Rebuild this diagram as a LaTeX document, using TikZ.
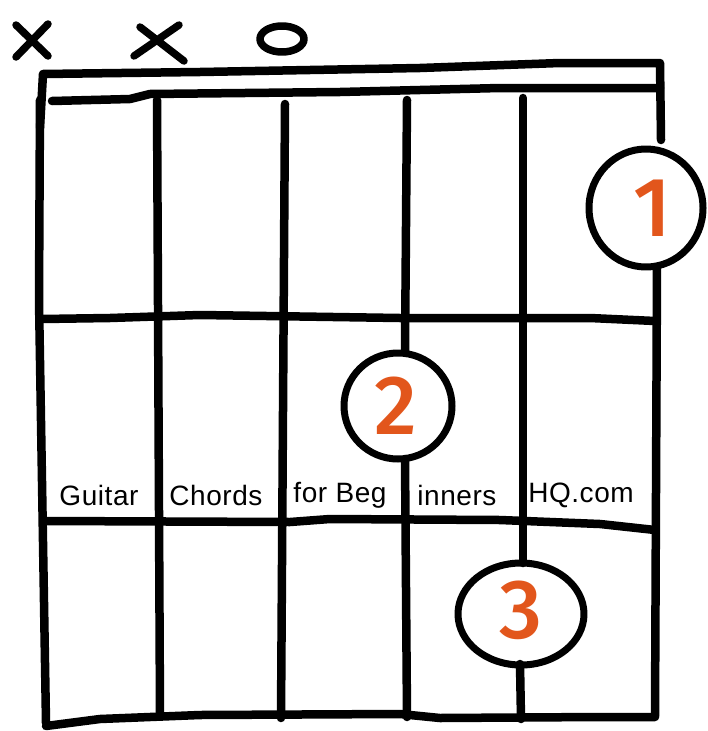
\documentclass[tikz,border=0pt]{standalone}
\usepackage{fontspec}
\setmainfont{Liberation Sans}
\newfontfamily\numfont{Fira Sans Medium}
\definecolor{fingerorange}{HTML}{E2561C}
\begin{document}
\begin{tikzpicture}[x=1pt,y=-1pt,
  ink/.style={line width=8.5pt,line cap=round,line join=round,black},
  fingerring/.style={ink,line width=7pt},
  fingernum/.style={text=fingerorange,font=\numfont\fontsize{84}{84}\selectfont},
  brand/.style={font=\fontsize{28}{28}\selectfont\addfontfeature{LetterSpace=2},inner sep=0pt}]
\useasboundingbox (0,0) rectangle (707,731);
% muted / open marks
\draw[ink,line width=7.5pt] (16,25) -- (48,56) (48,24) -- (16,57);
\draw[ink,line width=7.5pt] (140,27) -- (184,61) (179,25) -- (134,56);
\draw[ink,line width=7.5pt] (282,39) ellipse (22 and 13);
% nut
\draw[ink] (40,128) -- (43,74) -- (200,72) -- (420,68) -- (560,63) -- (660,63) -- (661,140);
\draw[ink] (52,101) -- (130,99) -- (150,94) -- (340,92) -- (500,88) -- (660,88);
% strings
\draw[ink] (40,100) -- (39,300) -- (46,723);
\draw[ink] (157,100) -- (160,716);
\draw[ink] (285,104) -- (281,718);
% finger circles
\coordinate (c1) at (646,208);
\coordinate (c2) at (398,406);
\coordinate (c3) at (521,614);
\draw[fingerring] (c1) ellipse (57 and 59);
\draw[fingerring] (c2) ellipse (54 and 53);
\draw[fingerring] (c3) ellipse (63 and 51);
\node[fingernum] (n1) at (652,208) {1};
\node[fingernum] (n2) at (396,406) {2};
\node[fingernum] (n3) at (521,610) {3};
% string 4 and 5 interrupted
\draw[ink] (407,100) -- (405,352);
\draw[ink] (405,459) -- (407,717);
\draw[ink] (523,98) -- (523,563);
\draw[ink] (520,664) -- (521,719);
% right edge below circle 1
\draw[ink] (657,267) -- (655,716);
% frets
\draw[ink] (42,319) -- (110,318) -- (200,315) -- (400,318) -- (590,318) -- (655,321);
\draw[ink] (45,521) -- (290,522) -- (330,519) -- (500,520) -- (600,524) -- (655,530);
\draw[ink] (46,726) -- (100,719) -- (200,715) -- (400,714) -- (440,718) -- (600,717) -- (655,717);
% brand text
\node[brand] (t1) at (99,495) {Guitar};
\node[brand] (t2) at (216,495) {Chords};
\node[brand] (t3) at (340,495) {for Beg};
\node[brand] (t4) at (457,495) {inners};
\node[brand] (t5) at (581,495) {HQ.com};
\end{tikzpicture}
\end{document}
